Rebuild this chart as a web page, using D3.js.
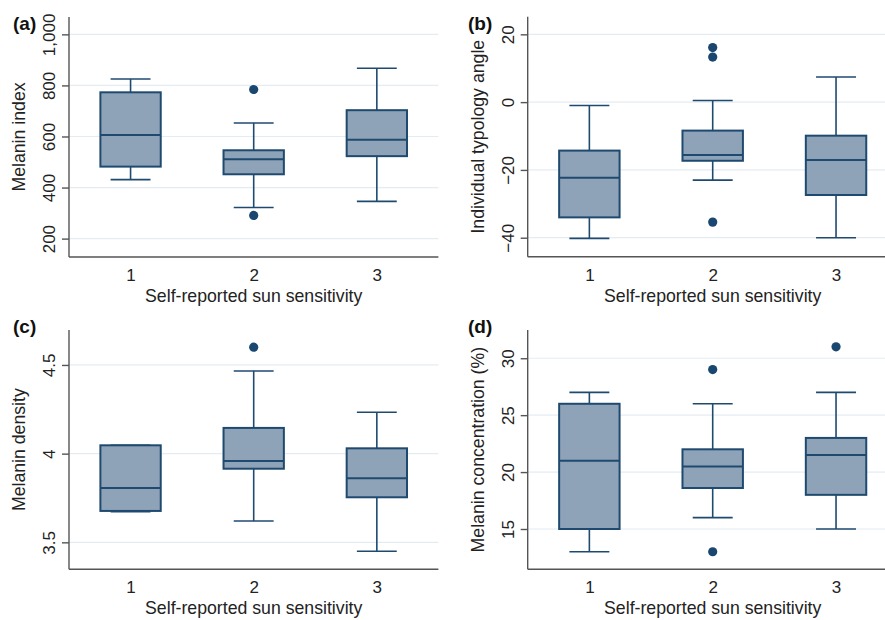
<!DOCTYPE html>
<html lang="en">
<head>
  <meta charset="UTF-8">
  <title>Sun sensitivity box plots</title>
  <style>
    body { margin: 0; background: #fff; font-family: "Liberation Sans", Arial, sans-serif; }
    svg { display: block; }
  </style>
</head>
<body>

<svg width="885" height="620"></svg>

<script src="https://d3js.org/d3.v7.min.js"></script>
<script>

// Categories (self-reported sun sensitivity)
let groups = [1, 2, 3];

// (a) Melanin index
let indexBoxes = [
  { low: 431, q1: 482, med: 606, q3: 773, high: 825 },
  { low: 322, q1: 452, med: 511, q3: 546, high: 653 },
  { low: 346, q1: 523, med: 587, q3: 703, high: 867 }
];
let indexOutliers = [[], [784, 291], []];
let indexTicks = [200, 400, 600, 800, 1000];

// (b) Individual typology angle
let itaBoxes = [
  { low: -40.2, q1: -34.0, med: -22.3, q3: -14.3, high: -1.0 },
  { low: -23.0, q1: -17.3, med: -15.6, q3: -8.4, high: 0.5 },
  { low: -40.0, q1: -27.4, med: -17.1, q3: -9.9, high: 7.4 }
];
let itaOutliers = [[], [16.1, 13.3, -35.4], []];
let itaTicks = [-40, -20, 0, 20];

// (c) Melanin density
let densityBoxes = [
  { low: 3.673, q1: 3.677, med: 3.807, q3: 4.047, high: 4.047 },
  { low: 3.62, q1: 3.915, med: 3.959, q3: 4.145, high: 4.466 },
  { low: 3.45, q1: 3.754, med: 3.861, q3: 4.03, high: 4.233 }
];
let densityOutliers = [[], [4.6], []];
let densityTicks = [3.5, 4, 4.5];

// (d) Melanin concentration (%)
let concBoxes = [
  { low: 13, q1: 15, med: 21, q3: 26, high: 27 },
  { low: 16, q1: 18.6, med: 20.5, q3: 22, high: 26 },
  { low: 15, q1: 18, med: 21.5, q3: 23, high: 27 }
];
let concOutliers = [[], [29, 13], [31]];
let concTicks = [15, 20, 25, 30];

// Panel layout
let panels = [
  { tag: "(a)", title: "Melanin index", boxes: indexBoxes, outliers: indexOutliers, ticks: indexTicks,
    domain: [128, 1068], fmt: d3.format(","), left: 69, right: 438.4, top: 17, bottom: 257, tagX: 13, tagY: 30 },
  { tag: "(b)", title: "Individual typology angle", boxes: itaBoxes, outliers: itaOutliers, ticks: itaTicks,
    domain: [-45.6, 25.2], fmt: d3.format("d"), left: 527.7, right: 897.7, top: 16.7, bottom: 256.7, tagX: 468, tagY: 30 },
  { tag: "(c)", title: "Melanin density", boxes: densityBoxes, outliers: densityOutliers, ticks: densityTicks,
    domain: [3.348, 4.697], fmt: d3.format(""), left: 69, right: 438.4, top: 330, bottom: 569.3, tagX: 13, tagY: 333 },
  { tag: "(d)", title: "Melanin concentration (%)", boxes: concBoxes, outliers: concOutliers, ticks: concTicks,
    domain: [11.46, 32.48], fmt: d3.format("d"), left: 527.7, right: 897.7, top: 330, bottom: 569.3, tagX: 468, tagY: 333 }
];

let boxFill = "#8fa3b8", boxStroke = "#1f4a70", dotColor = "#1a476f";
let gridColor = "#e4ecf1", axisColor = "#555";

let svg = d3.select("svg");

panels.forEach(p => {
  let x = d3.scaleLinear().domain([0.5, 3.5]).range([p.left, p.right]);
  let y = d3.scaleLinear().domain(p.domain).range([p.bottom, p.top]);
  let g = svg.append("g");
  let boxHalf = x(0.745) - x(0.5);
  let capHalf = x(0.662) - x(0.5);

  // gridlines
  g.selectAll(".grid").data(p.ticks).enter().append("line")
      .attr("x1", p.left).attr("x2", p.right)
      .attr("y1", d => y(d)).attr("y2", d => y(d))
      .attr("stroke", gridColor).attr("stroke-width", 1.2);

  // y axis
  let yAxis = g.append("g")
      .attr("transform", `translate(${p.left},0)`)
      .call(d3.axisLeft(y).tickValues(p.ticks).tickFormat(p.fmt).tickSize(7).tickSizeOuter(0));
  yAxis.select(".domain").attr("stroke", axisColor).attr("stroke-width", 1.4)
      .attr("d", `M0,${p.top}V${p.bottom}`);
  yAxis.selectAll(".tick line").attr("stroke", axisColor).attr("stroke-width", 1.4);
  yAxis.selectAll(".tick text")
      .attr("x", null).attr("dy", null)
      .attr("transform", "translate(-14,0) rotate(-90)")
      .attr("text-anchor", "middle")
      .attr("fill", "#222")
      .style("font-size", "17px")
      .style("font-family", "Liberation Sans, Arial, sans-serif");

  // x axis
  let xAxis = g.append("g")
      .attr("transform", `translate(0,${p.bottom})`)
      .call(d3.axisBottom(x).tickValues(groups).tickFormat(d3.format("d")).tickSize(0).tickSizeOuter(0));
  xAxis.select(".domain").attr("stroke", axisColor).attr("stroke-width", 1.4)
      .attr("d", `M${p.left},0H${p.right}`);
  xAxis.selectAll(".tick text")
      .attr("y", 24).attr("dy", null)
      .attr("fill", "#222")
      .style("font-size", "17px")
      .style("font-family", "Liberation Sans, Arial, sans-serif");

  // axis titles
  g.append("text")
      .attr("x", x(2)).attr("y", p.bottom + 45)
      .attr("text-anchor", "middle")
      .attr("fill", "#222")
      .style("font-size", "17.7px")
      .text("Self-reported sun sensitivity");

  g.append("text")
      .attr("transform", `translate(${p.left - 44},${(p.top + p.bottom) / 2}) rotate(-90)`)
      .attr("text-anchor", "middle")
      .attr("fill", "#222")
      .style("font-size", "17.7px")
      .text(p.title);

  // panel tag
  svg.append("text")
      .attr("x", p.tagX).attr("y", p.tagY)
      .attr("fill", "#111")
      .style("font-size", "19px")
      .style("font-weight", "bold")
      .text(p.tag);

  // boxes
  let box = g.selectAll(".box").data(p.boxes).enter().append("g");

  box.append("line")
      .attr("x1", (d, i) => x(groups[i])).attr("x2", (d, i) => x(groups[i]))
      .attr("y1", d => y(d.high)).attr("y2", d => y(d.q3))
      .attr("stroke", boxStroke).attr("stroke-width", 1.6);
  box.append("line")
      .attr("x1", (d, i) => x(groups[i])).attr("x2", (d, i) => x(groups[i]))
      .attr("y1", d => y(d.q1)).attr("y2", d => y(d.low))
      .attr("stroke", boxStroke).attr("stroke-width", 1.6);
  box.append("line")
      .attr("x1", (d, i) => x(groups[i]) - capHalf).attr("x2", (d, i) => x(groups[i]) + capHalf)
      .attr("y1", d => y(d.high)).attr("y2", d => y(d.high))
      .attr("stroke", boxStroke).attr("stroke-width", 1.6);
  box.append("line")
      .attr("x1", (d, i) => x(groups[i]) - capHalf).attr("x2", (d, i) => x(groups[i]) + capHalf)
      .attr("y1", d => y(d.low)).attr("y2", d => y(d.low))
      .attr("stroke", boxStroke).attr("stroke-width", 1.6);

  box.append("rect")
      .attr("x", (d, i) => x(groups[i]) - boxHalf)
      .attr("width", boxHalf * 2)
      .attr("y", d => y(d.q3))
      .attr("height", d => y(d.q1) - y(d.q3))
      .attr("fill", boxFill).attr("stroke", boxStroke).attr("stroke-width", 2);

  box.append("line")
      .attr("x1", (d, i) => x(groups[i]) - boxHalf).attr("x2", (d, i) => x(groups[i]) + boxHalf)
      .attr("y1", d => y(d.med)).attr("y2", d => y(d.med))
      .attr("stroke", boxStroke).attr("stroke-width", 2);

  // outliers
  let pts = [];
  p.outliers.forEach((vals, i) => vals.forEach(v => pts.push({ g: groups[i], v: v })));
  g.selectAll(".dot").data(pts).enter().append("circle")
      .attr("cx", d => x(d.g)).attr("cy", d => y(d.v))
      .attr("r", 4.6)
      .attr("fill", dotColor);
});

</script>

</body>
</html>
